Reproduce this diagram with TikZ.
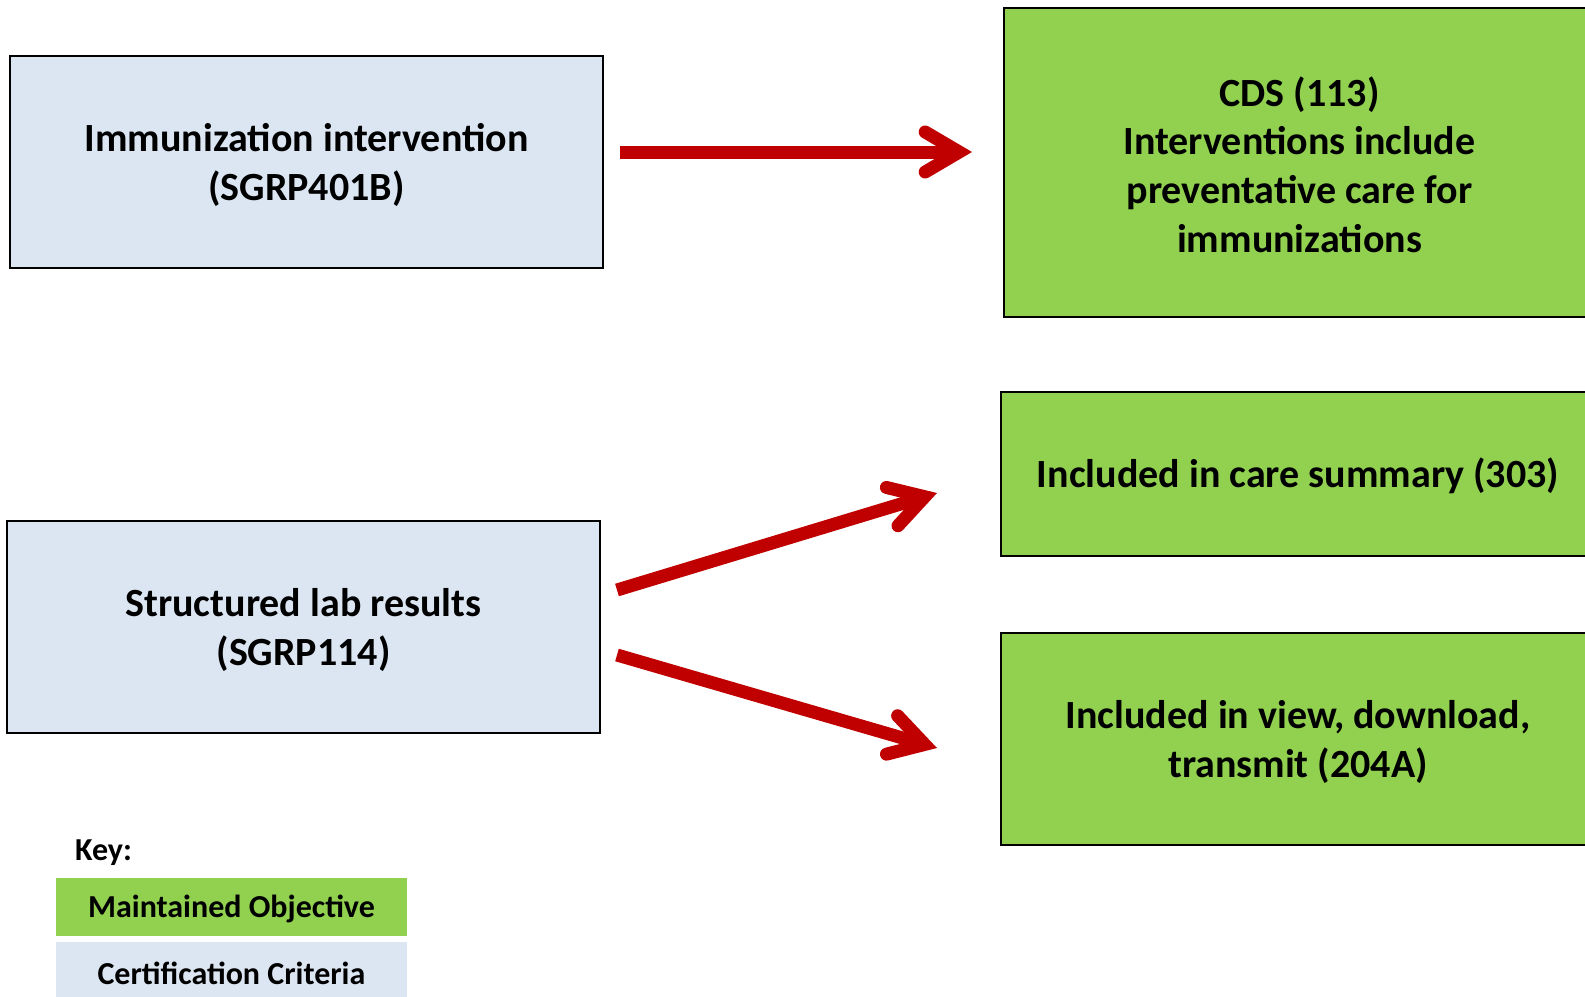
\documentclass[tikz,border=0pt]{standalone}
\usepackage{fontspec}
\setmainfont{Carlito}
\usetikzlibrary{arrows.meta}
\definecolor{objgreen}{HTML}{92D050}
\definecolor{critblue}{HTML}{DCE6F2}
\definecolor{linkred}{HTML}{C00000}
% invisible strut that sets the height of a box's first text line
\newcommand\firstline{\rule{0pt}{34pt}}

\begin{document}
\begin{tikzpicture}[x=1pt,y=-1pt,
  box/.style={draw=black, line width=2.5pt, align=center, inner sep=0pt,
    font=\bfseries\fontsize{40}{48.8}\selectfont},
  crit/.style={box, fill=critblue},
  objective/.style={box, fill=objgreen},
  keybox/.style={inner sep=0pt, minimum width=351pt, minimum height=58pt,
    font=\bfseries\fontsize{32}{38}\selectfont,
    execute at begin node={\rule{0pt}{27pt}}},
  link/.style={draw=linkred, line width=13pt,
    -{Straight Barb[length=34pt,width=40pt,line join=miter,line cap=round]}}
]
\clip (0,0) rectangle (1585,996);

% certification criteria
\node[crit, minimum width=593pt, minimum height=212pt] (immun) at (306.5,162)
  {\firstline Immunization intervention\\(SGRP401B)};
\node[crit, minimum width=593pt, minimum height=212pt] (lab) at (303.5,627)
  {\firstline Structured lab results\\(SGRP114)};

% maintained objectives
\node[objective, minimum width=591pt, minimum height=309pt] (cds) at (1299.5,162.5)
  {\firstline CDS (113)\\Interventions include\\preventative care for\\immunizations};
\node[objective, minimum width=594pt, minimum height=164pt] (care) at (1298,474)
  {\firstline Included in care summary (303)};
\node[objective, minimum width=594pt, minimum height=212pt] (vdt) at (1298,739)
  {\firstline Included in view, download,\\transmit (204A)};

% arrow end points
\coordinate (immunOut) at (620,152);
\coordinate (cdsIn) at (972,152);
\coordinate (labOutA) at (617,590);
\coordinate (careIn) at (937,493);
\coordinate (labOutB) at (617,655);
\coordinate (vdtIn) at (937,748);

\draw[link] (immunOut) -- (cdsIn);
\draw[link] (labOutA) -- (careIn);
\draw[link] (labOutB) -- (vdtIn);

% key
\node[anchor=west, inner sep=0pt, font=\bfseries\fontsize{32}{38}\selectfont] (keylabel) at (75,853) {Key:};
\node[keybox, fill=objgreen] (keyobj) at (231.5,907) {Maintained Objective};
\node[keybox, fill=critblue] (keycrit) at (231.5,971) {Certification Criteria};
\end{tikzpicture}
\end{document}
